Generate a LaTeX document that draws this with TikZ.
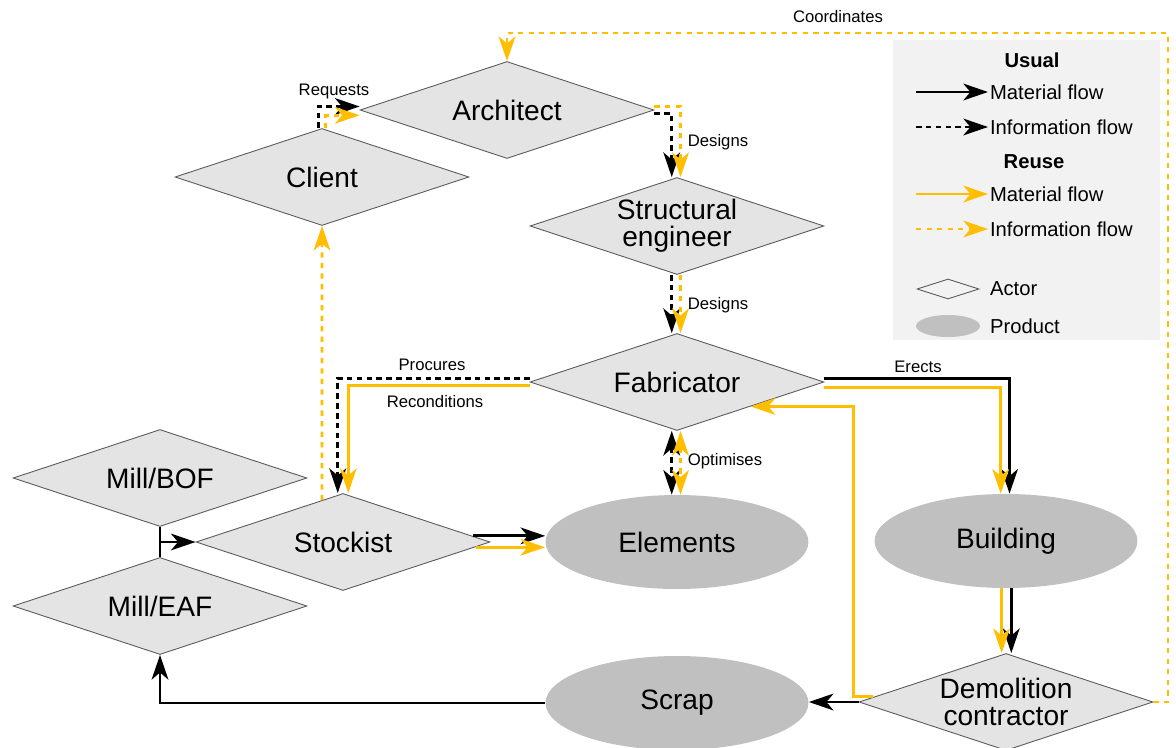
\documentclass[tikz,border=0pt]{standalone}
\usepackage{fontspec}
\setmainfont{Liberation Sans}
\usetikzlibrary{shapes.geometric,arrows.meta}

\definecolor{reuseyellow}{RGB}{255,190,0}
\definecolor{actorgray}{RGB}{228,228,228}
\definecolor{productgray}{RGB}{192,192,192}
\newcommand{\actorfont}{\fontsize{16}{15.5}\selectfont}
\newcommand{\flowfont}{\fontsize{9.5}{11}\selectfont}
\newcommand{\legendfont}{\fontsize{11.5}{13}\selectfont}

\begin{document}
\begin{tikzpicture}[x=0.02cm,y=-0.02cm,>={Stealth[length=14pt,width=9.5pt,inset=4pt]},
    actor/.style={diamond,draw=black!65,line width=0.5pt,fill=actorgray,
        minimum width=5.88cm,minimum height=1.94cm,inner sep=0pt,
        label={[align=center,font=\actorfont]center:#1}},
    product/.style={ellipse,fill=productgray,minimum width=5.26cm,
        minimum height=1.88cm,inner sep=0pt,font=\actorfont},
    usualmat/.style={->,line width=1.6pt,black},
    usualinfo/.style={usualmat,dash pattern=on 3.2pt off 2.4pt},
    reusemat/.style={->,line width=1.6pt,reuseyellow},
    reuseinfo/.style={reusemat,dash pattern=on 3pt off 3pt},
    flowlabel/.style={font=\flowfont,inner sep=1pt},
    legendtext/.style={font=\legendfont,anchor=west,inner sep=1pt}]
    \useasboundingbox (0,0) rectangle (1176,747);

    % legend background
    \fill[gray!10] (893,40) rectangle (1160,340);

    % actors and products
    \node[actor={Architect}] (arch) at (507,110) {};
    \node[actor={Client}] (client) at (322,177) {};
    \node[actor={Structural\\engineer}] (steng) at (677,226) {};
    \node[actor={Fabricator}] (fab) at (677,382) {};
    \node[actor={Mill/BOF}] (bof) at (160,478) {};
    \node[actor={Mill/EAF}] (eaf) at (160,606) {};
    \node[actor={Stockist}] (stock) at (343,542) {};
    \node[actor={Demolition\\contractor}] (demo) at (1006,702) {};
    \node[product] (elem) at (677,542) {Elements};
    \node[product] (bldg) at (1006,541) {Building};
    \node[product] (scrap) at (677,703) {Scrap};

    % client -> architect
    \draw[usualinfo] ([xshift=-2pt]client.north) |- ([yshift=2pt]arch.west);
    \draw[reuseinfo] ([xshift=2pt]client.north) |- ([yshift=-3pt]arch.west);
    \node[flowlabel] (reqlbl) at (334,91) {Requests};

    % design chain
    \draw[usualinfo] ([yshift=-2pt]arch.east) -| ([xshift=-3pt]steng.north);
    \draw[reuseinfo] ([yshift=2pt]arch.east) -| ([xshift=2pt]steng.north);
    \node[flowlabel] (deslbl1) at (718,142) {Designs};
    \draw[usualinfo] ([xshift=-3pt]steng.south) -- ([xshift=-3pt]fab.north);
    \draw[reuseinfo] ([xshift=2pt]steng.south) -- ([xshift=2pt]fab.north);
    \node[flowlabel] (deslbl2) at (718,305) {Designs};

    % fabricator -> stockist
    \draw[usualinfo] ([yshift=2pt]fab.west) -| ([xshift=-3pt]stock.north);
    \draw[reusemat] ([yshift=-2pt]fab.west) -| ([xshift=3pt]stock.north);
    \node[flowlabel] (proclbl) at (432,365) {Procures};
    \node[flowlabel] (reclbl) at (435,402) {Reconditions};

    \draw[reuseinfo] ([xshift=-12pt,yshift=-4pt]stock.north) -- (client.south);

    % fabricator <-> elements
    \draw[usualinfo,<->] ([xshift=-3pt]fab.south) -- ([xshift=-3pt]elem.north);
    \draw[reuseinfo,<->] ([xshift=2pt]fab.south) -- ([xshift=2pt]elem.north);
    \node[flowlabel] (optlbl) at (725,461) {Optimises};

    % fabricator -> building -> demolition
    \draw[usualmat] ([yshift=2pt]fab.east) -| ([xshift=2pt]bldg.north);
    \draw[reusemat] ([yshift=-3pt]fab.east) -| ([xshift=-3pt]bldg.north);
    \node[flowlabel] (erlbl) at (918,367) {Erects};
    \draw[usualmat] ([xshift=3pt]bldg.south) -- ([xshift=3pt]demo.north);
    \draw[reusemat] ([xshift=-2.5pt]bldg.south) -- ([xshift=-2.5pt]demo.north);

    % back from demolition
    \draw[reusemat] ([xshift=8pt,yshift=3pt]demo.west) -- ++(-19,0) |- (fab.south east);
    \draw[usualmat] (demo.west) -- (demo.west -| scrap.east);
    \draw[usualmat] (scrap.west) -| (eaf.south);

    % mills -> stockist -> elements
    \draw[usualmat,-] (bof.south) -- (eaf.north);
    \draw[usualmat] (bof.south |- stock.west) -- (stock.west);
    \draw[usualmat] ([xshift=-10pt,yshift=3.5pt]stock.east) coordinate (stk1) -- (stk1 -| elem.west);
    \draw[reusemat] ([xshift=-8pt,yshift=-3pt]stock.east) coordinate (stk2) -- (stk2 -| elem.west);

    % demolition contractor -> architect
    \coordinate (topright) at (1168,33);
    \draw[reuseinfo] (demo.east) -| (topright) -| (arch.north);
    \node[flowlabel] (coordlbl) at (838,17) {Coordinates};

    % legend
    \node[font=\legendfont\bfseries] (usualhd) at (1032,60) {Usual};
    \node[font=\legendfont\bfseries] (reusehd) at (1034,162) {Reuse};
    \foreach \sty/\txt/\y [count=\i] in {usualmat/Material flow/92,
        usualinfo/Information flow/127,reusemat/Material flow/194,
        reuseinfo/Information flow/229}{
        \node[legendtext] (lg\i) at (988,\y) {\txt};
        \coordinate (lgs\i) at (916,\y);
        \draw[\sty] (lgs\i) -- (lg\i.west);
    }
    \node[diamond,draw=black!65,line width=0.5pt,minimum width=1.24cm,
        minimum height=0.4cm,inner sep=0pt] (lgactor) at (948,289) {};
    \node[legendtext] (lgactortxt) at (988,289) {Actor};
    \node[ellipse,fill=productgray,minimum width=1.28cm,minimum height=0.44cm,
        inner sep=0pt] (lgprod) at (948,326) {};
    \node[legendtext] (lgprodtxt) at (988,326) {Product};
\end{tikzpicture}
\end{document}
